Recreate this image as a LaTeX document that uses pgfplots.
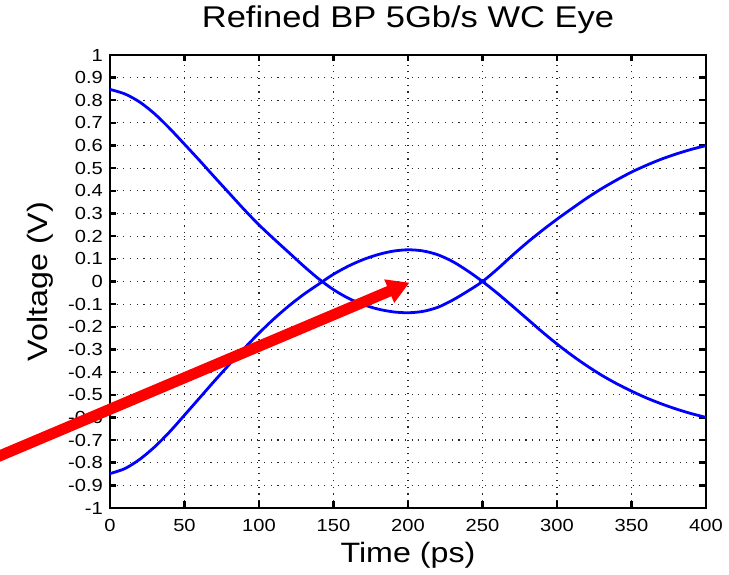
\documentclass[border=0pt]{standalone}
\usepackage{fontspec}
\setmainfont[FakeStretch=1.15]{Liberation Sans}
\usepackage{pgfplots}
\usepackage{pgfplotstable}
\pgfplotsset{compat=1.18}
\usetikzlibrary{arrows.meta}

% trace that starts high (0.85 V)
\pgfplotstableread{
t v
0 0.848
10 0.828
20 0.792
30 0.740
40 0.676
50 0.606
60 0.535
70 0.462
80 0.390
90 0.318
100 0.250
110 0.188
120 0.128
130 0.068
140 0.012
150 -0.036
160 -0.074
170 -0.102
180 -0.122
190 -0.134
200 -0.138
210 -0.132
220 -0.114
230 -0.082
240 -0.043
250 0.000
260 0.055
270 0.115
280 0.172
290 0.225
300 0.275
310 0.322
320 0.368
330 0.410
340 0.448
350 0.483
360 0.513
370 0.540
380 0.563
390 0.583
400 0.600
}\traceA

% trace that starts low (-0.85 V)
\pgfplotstableread{
t v
0 -0.848
10 -0.826
20 -0.785
30 -0.730
40 -0.664
50 -0.590
60 -0.515
70 -0.440
80 -0.367
90 -0.296
100 -0.228
110 -0.165
120 -0.108
130 -0.057
140 -0.012
150 0.032
160 0.068
170 0.097
180 0.119
190 0.134
200 0.140
210 0.135
220 0.118
230 0.088
240 0.047
250 0.000
260 -0.052
270 -0.108
280 -0.165
290 -0.222
300 -0.276
310 -0.326
320 -0.372
330 -0.414
340 -0.451
350 -0.484
360 -0.514
370 -0.540
380 -0.563
390 -0.583
400 -0.600
}\traceB

\begin{document}
\begin{tikzpicture}
\begin{axis}[
    scale only axis,
    width=596pt,
    height=453pt,
    xmin=0, xmax=400,
    ymin=-1, ymax=1,
    xtick={0,50,100,150,200,250,300,350,400},
    ytick={-1,-0.9,-0.8,-0.7,-0.6,-0.5,-0.4,-0.3,-0.2,-0.1,0,0.1,0.2,0.3,0.4,0.5,0.6,0.7,0.8,0.9,1},
    yticklabels={-1,-0.9,-0.8,-0.7,-0.6,-0.5,-0.4,-0.3,-0.2,-0.1,0,0.1,0.2,0.3,0.4,0.5,0.6,0.7,0.8,0.9,1},
    /pgf/number format/assume math mode=true,
    grid=major,
    grid style={black!85, line width=1.1pt, dash pattern=on 1.1pt off 5.6pt},
    axis line style={line width=2.4pt},
    tick align=inside,
    major tick length=6.5pt,
    every tick/.style={black, line width=2.4pt},
    tick label style={font=\fontsize{17.5}{19}\selectfont},
    yticklabel style={inner sep=0pt, xshift=-7pt},
    xticklabel style={inner sep=0pt, yshift=-11pt},
    title={Refined BP 5Gb/s WC Eye},
    title style={font=\fontsize{30}{32}\selectfont, at={(rel axis cs:0.5,1)}, anchor=base, yshift=21pt},
    xlabel={Time (ps)},
    xlabel style={font=\fontsize{28}{30}\selectfont, at={(rel axis cs:0.5,0)}, anchor=base, yshift=-55pt},
    ylabel={Voltage (V)},
    ylabel style={font=\fontsize{28}{30}\selectfont, at={([xshift=-62pt]rel axis cs:0,0.5)}, anchor=base},
]
\addplot[blue, line width=2.8pt, no marks, smooth, tension=0.5] table[x=t, y=v] {\traceA};
\addplot[blue, line width=2.8pt, no marks, smooth, tension=0.5] table[x=t, y=v] {\traceB};
\coordinate (arrS) at (axis cs:-87,-0.806);
\coordinate (arrE) at (axis cs:201,-0.005);
\coordinate (bl) at (rel axis cs:0,0);
\end{axis}
\draw[red, line width=11pt, -{Triangle[length=22pt, width=24pt]}] (arrS) -- (arrE);
\pgfresetboundingbox
\path ([shift={(-110pt,-67pt)}]bl) rectangle ([shift={(619pt,508pt)}]bl);
\end{tikzpicture}
\end{document}
